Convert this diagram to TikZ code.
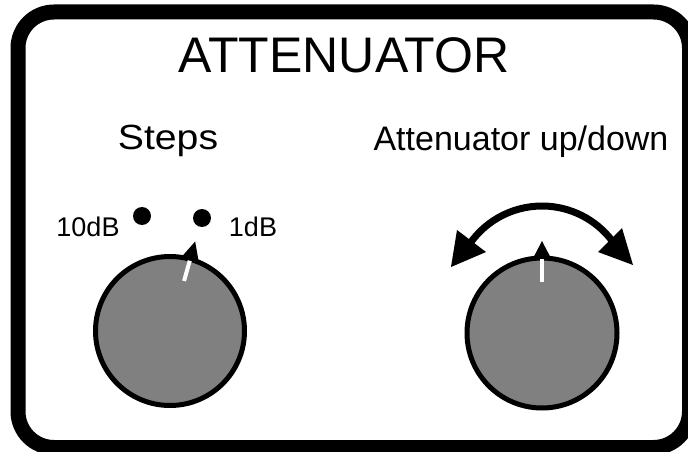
\documentclass[tikz,border=0pt]{standalone}
\usepackage{fontspec}
\setmainfont{Liberation Sans}
\definecolor{knobgray}{HTML}{808080}
\begin{document}
\begin{tikzpicture}[x=1pt,y=-1pt,
  knob/.style={fill=knobgray,draw=black,line width=5},
  markline/.style={white,line width=4},
  dot/.style={fill=black,draw=none},
  title/.style={anchor=base,inner sep=0,font=\fontsize{50}{60}\selectfont},
  label/.style={anchor=base,inner sep=0,font=\fontsize{34}{40}\selectfont},
  small/.style={anchor=base,inner sep=0,font=\fontsize{27}{30}\selectfont}]
\useasboundingbox (0,0) rectangle (688,452);
\clip (0,0) rectangle (688,452);
\fill[white] (0,0) rectangle (688,452);
% frame
\draw[line width=15,rounded corners=36] (18,12) rectangle (689.5,447.5);
% texts
\node[title] (t) at (344,73) {ATTENUATOR};
\node[label,xscale=1.12,font=\fontsize{35}{40}\selectfont] (steps) at (168,149) {Steps};
\node[label] (updown) at (521,150) {Attenuator up/down};
\node[small] (l10) at (88,236) {10dB};
\node[small] (l1) at (253,236) {1dB};
% dots
\fill[dot] (142,216) circle (9);
\fill[dot] (202,218) circle (9);
% left knob
\begin{scope}[shift={(170,331)}]
  \draw[knob] (0,0) circle (74.5);
  \fill[black] (-74.3:93) -- (-67.5:75) -- (-81.1:75) -- cycle;
  \draw[markline] (-74.3:52) -- (-74.3:73);
\end{scope}
% right knob
\begin{scope}[shift={(542,333)}]
  \draw[knob] (0,0) circle (75);
  \fill[black] (-90:92) -- (-83:75) -- (-97:75) -- cycle;
  \draw[markline] (-90:51) -- (-90:74);
\end{scope}
% up/down arrow
\draw[line width=7] (542,294) ++(-146:88) arc[start angle=-146,end angle=-34,radius=88];
\fill[black] (451,267) -- (457,230) -- (486,252) -- cycle;
\fill[black] (633,265) -- (598,252) -- (622,228) -- cycle;
\end{tikzpicture}
\end{document}
